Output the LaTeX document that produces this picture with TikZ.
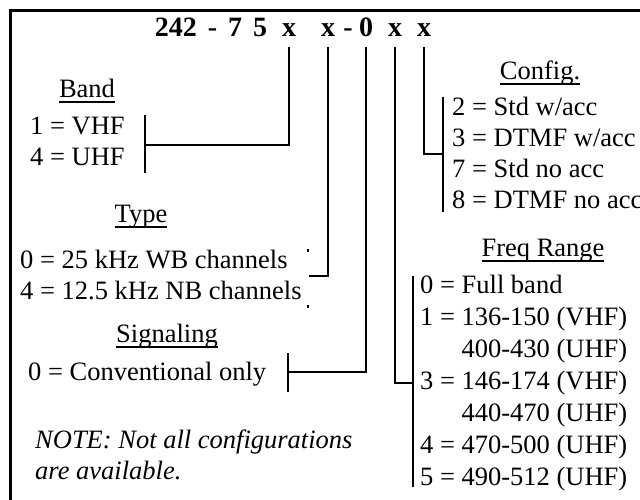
\documentclass[tikz,border=0pt]{standalone}
\usepackage{fontspec}
\setmainfont{Liberation Serif}
\usepackage{tikz}
\usetikzlibrary{positioning, calc}

\newcommand{\hdrline}[1]{\setbox0\hbox{#1}\rlap{\rule[-6pt]{\wd0}{1.8pt}}\box0}

\begin{document}
\begin{tikzpicture}[x=1pt, y=-1pt,
  every node/.style={font=\fontsize{26.5}{31}\selectfont, inner sep=0pt},
  code/.style={font=\fontsize{28}{30}\selectfont\bfseries, anchor=base},
  list/.style={align=left, anchor=west},
  hdr/.style={anchor=base},
  link/.style={line width=2.4pt},
  bracket/.style={line width=1.5pt}]
\useasboundingbox (0,0) rectangle (640,499);
\clip (0,0) rectangle (640,499);

% Frame
\draw[line width=3pt] (10,520) -- (10,10) -- (660,10);

% Part number
\node[code] (pre) at (211,36) {242\hspace{0.39em}-\hspace{0.39em}7\hspace{0.39em}5};
\node[code] (cBand) at (289,36) {x};
\node[code] (cType) at (328,36) {x};
\node[code] (dash) at (348,36) {-};
\node[code] (cSig) at (366,36) {0};
\node[code] (cFreq) at (395,36) {x};
\node[code] (cCfg) at (424,36) {x};

% Headers
\node[hdr] (bandHdr) at (87,97) {\hdrline{Band}};
\node[hdr] (typeHdr) at (141,222) {\hdrline{Type}};
\node[hdr] (sigHdr) at (167,342) {\hdrline{Signaling}};
\node[hdr] (cfgHdr) at (540,79) {\hdrline{Config.}};
\node[hdr] (freqHdr) at (543,256) {\hdrline{Freq Range}};

% Option lists
\node[list] (bandList) at (30,141) {1 = VHF\\4 = UHF};
\node[list] (typeList) at (20,275) {0 = 25 kHz WB channels\\4 = 12.5 kHz NB channels};
\node[list] (sigList) at (28,374) {0 = Conventional only};
\node[list] (cfgList) at (452,153)
  {2 = Std w/acc\\3 = DTMF w/acc\\7 = Std no acc\\8 = DTMF no acc};
\node[list, font=\fontsize{26.5}{32}\selectfont] (freqList) at (420,383)
  {0 = Full band\\1 = 136-150 (VHF)\\\phantom{1 = }400-430 (UHF)\\
   3 = 146-174 (VHF)\\\phantom{3 = }440-470 (UHF)\\4 = 470-500 (UHF)\\5 = 490-512 (UHF)};
\node[list, font=\fontsize{26.5}{31}\selectfont\itshape] (note) at (35,455)
  {NOTE: Not all configurations\\are available.};

% Brackets
\coordinate (bandBr) at (145,145);
\coordinate (typeBr) at (309,276);
\coordinate (sigBr) at (288,372);
\coordinate (freqBr) at (413,383);
\coordinate (cfgBr) at (443,154);
\draw[bracket] ([yshift=30pt]bandBr) -- ([yshift=-28pt]bandBr);
\draw[bracket] (308,249) -- (308,252);
\draw[bracket] (308,305) -- (308,308);
\draw[bracket] ([yshift=19pt]sigBr) -- ([yshift=-20pt]sigBr);
\draw[bracket] ([yshift=107pt]freqBr) -- ([yshift=-104pt]freqBr);
\draw[bracket] ([yshift=57pt]cfgBr) -- ([yshift=-58pt]cfgBr);

% Links from digits
\draw[link] ([yshift=-11pt]cBand.base) |- (bandBr);
\draw[link] ([yshift=-11pt]cType.base) |- (typeBr);
\draw[link] ([yshift=-11pt]cSig.base) |- (sigBr);
\draw[link] ([yshift=-11pt]cFreq.base) |- (freqBr);
\draw[link] ([yshift=-11pt]cCfg.base) |- (cfgBr);

\end{tikzpicture}
\end{document}
